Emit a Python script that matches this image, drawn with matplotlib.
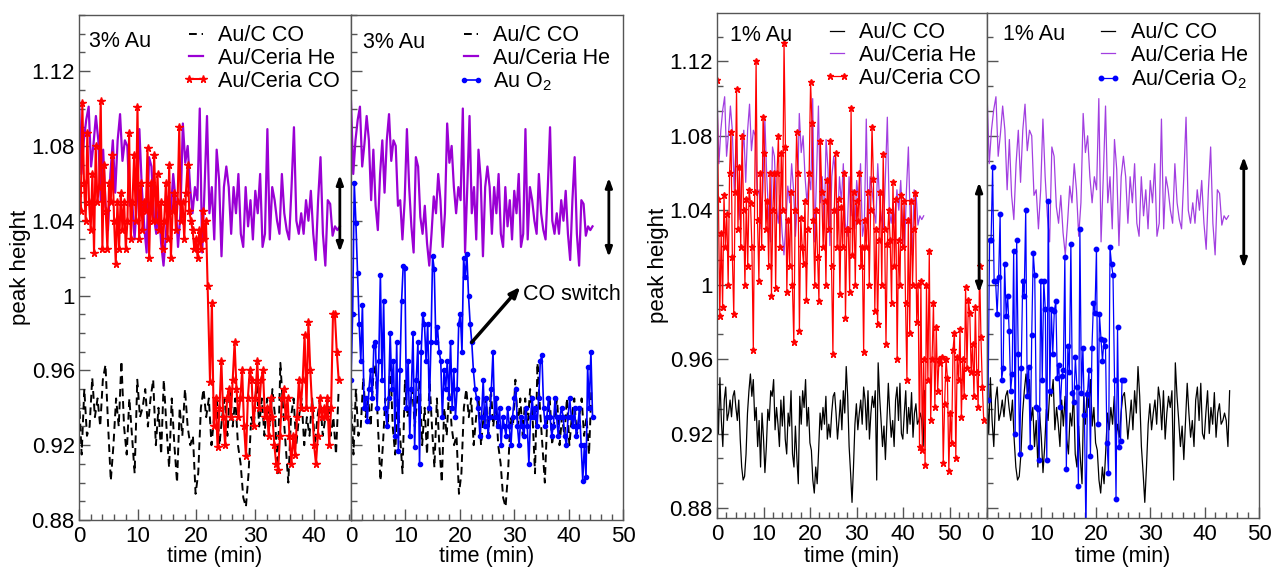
import numpy as np
import matplotlib

matplotlib.use("Agg")
import matplotlib.pyplot as plt
from matplotlib.lines import Line2D
from matplotlib.ticker import AutoMinorLocator, FuncFormatter, MultipleLocator

plt.rcParams["font.family"] = ["Liberation Sans", "DejaVu Sans"]
plt.rcParams["mathtext.default"] = "regular"

# --- data (peak height vs. time in minutes) ---------------------------------
# Au/Ceria under He, shared reference trace (0 .. 44.4 min)
HE_END = 44.4
HE = [1.104, 1.065, 1.083, 1.094, 1.101, 1.069, 1.081, 1.096, 1.083, 1.051,
      1.078, 1.048, 1.035, 1.065, 1.083, 1.055, 1.083, 1.097, 1.072, 1.083,
      1.080, 1.048, 1.051, 1.030, 1.051, 1.089, 1.058, 1.037, 1.023, 1.074,
      1.069, 1.042, 1.033, 1.048, 1.028, 1.016, 1.033, 1.053, 1.044, 1.065,
      1.051, 1.026, 1.044, 1.092, 1.071, 1.080, 1.058, 1.044, 1.058, 1.051,
      1.100, 1.023, 1.058, 1.096, 1.044, 1.058, 1.030, 1.078, 1.062, 1.021,
      1.058, 1.069, 1.058, 1.033, 1.058, 1.044, 1.065, 1.033, 1.026, 1.058,
      1.037, 1.051, 1.030, 1.056, 1.044, 1.065, 1.026, 1.033, 1.089, 1.030,
      1.058, 1.051, 1.040, 1.033, 1.065, 1.044, 1.035, 1.030, 1.058, 1.090,
      1.040, 1.033, 1.044, 1.033, 1.051, 1.040, 1.056, 1.033, 1.019, 1.051,
      1.074, 1.033, 1.016, 1.051, 1.049, 1.032, 1.037, 1.035, 1.037]

# 3% Au: Au/C under CO (0 .. 44.2 min)
C3_END = 44.2
C3 = [0.945, 0.915, 0.950, 0.925, 0.930, 0.956, 0.935, 0.945, 0.930, 0.955,
      0.963, 0.930, 0.901, 0.920, 0.945, 0.930, 0.965, 0.930, 0.915, 0.945,
      0.925, 0.905, 0.955, 0.935, 0.940, 0.950, 0.930, 0.945, 0.955, 0.920,
      0.940, 0.915, 0.955, 0.930, 0.908, 0.945, 0.920, 0.900, 0.940, 0.925,
      0.950, 0.930, 0.920, 0.925, 0.894, 0.905, 0.940, 0.950, 0.935, 0.945,
      0.920, 0.935, 0.945, 0.920, 0.935, 0.945, 0.925, 0.950, 0.930, 0.945,
      0.920, 0.910, 0.892, 0.887, 0.905, 0.935, 0.930, 0.955, 0.930, 0.945,
      0.925, 0.945, 0.930, 0.950, 0.935, 0.905, 0.964, 0.940, 0.920, 0.900,
      0.935, 0.945, 0.920, 0.935, 0.945, 0.920, 0.935, 0.925, 0.945, 0.920,
      0.935, 0.945, 0.925, 0.935, 0.945, 0.925, 0.935, 0.915, 0.950]

# 3% Au: Au/Ceria under CO, before (0 .. 21.9) and after (22.3 .. 44.2) the drop
CE3_A_SPAN = (0.0, 21.9)
CE3_A = [1.055, 1.045, 1.103, 1.060, 1.040, 1.087, 1.050, 1.035, 1.065, 1.023,
         1.080, 1.050, 1.058, 1.104, 1.025, 1.070, 1.045, 1.025, 1.060, 1.050,
         1.075, 1.040, 1.017, 1.050, 1.025, 1.055, 1.035, 1.050, 1.025, 1.040,
         1.087, 1.030, 1.050, 1.075, 1.040, 1.101, 1.030, 1.060, 1.035, 1.050,
         1.045, 1.079, 1.020, 1.060, 1.040, 1.075, 1.040, 1.065, 1.035, 1.050,
         1.025, 1.040, 1.060, 1.030, 1.070, 1.020, 1.045, 1.055, 1.035, 1.050,
         1.090, 1.040, 1.050, 1.030, 1.055, 1.070, 1.045, 1.040, 1.035, 1.025,
         1.030, 1.020, 1.035, 1.025, 1.045, 1.030, 1.040, 1.005]
CE3_B_SPAN = (22.3, 44.2)
CE3_B = [0.954, 0.996, 0.930, 0.945, 0.919, 0.940, 0.965, 0.935, 0.920, 0.945,
         0.950, 0.935, 0.955, 0.975, 0.950, 0.935, 0.945, 0.960, 0.930, 0.914,
         0.945, 0.960, 0.955, 0.930, 0.945, 0.965, 0.940, 0.955, 0.960, 0.935,
         0.940, 0.925, 0.945, 0.935, 0.920, 0.910, 0.907, 0.925, 0.945, 0.950,
         0.935, 0.945, 0.925, 0.910, 0.925, 0.915, 0.935, 0.955, 0.940, 0.955,
         0.979, 0.940, 0.986, 0.960, 0.940, 0.920, 0.910, 0.925, 0.945, 0.935,
         0.940, 0.935, 0.945, 0.920, 0.940, 0.990, 0.990, 0.970, 0.955]

# 3% Au: Au under O2 (0 .. 44.4 min)
O3_END = 44.4
O3 = [0.955, 0.990, 1.060, 1.039, 1.012, 0.985, 0.965, 0.995, 0.940, 0.945,
      0.933, 0.950, 0.960, 0.945, 0.973, 0.975, 0.940, 0.965, 1.011, 0.955,
      0.997, 0.940, 0.930, 0.945, 0.980, 0.950, 0.965, 0.925, 0.975, 0.917,
      0.960, 0.997, 1.016, 1.015, 0.940, 0.965, 0.925, 0.950, 0.980, 0.919,
      0.955, 0.975, 0.910, 0.970, 0.990, 0.985, 0.965, 0.985, 0.940, 0.975,
      1.021, 1.014, 0.975, 0.983, 0.970, 0.965, 0.935, 0.960, 0.950, 0.965,
      0.945, 0.975, 0.940, 0.960, 0.935, 0.950, 0.985, 0.990, 0.970, 1.020,
      1.010, 1.022, 1.000, 0.985, 0.975, 0.960,
      0.950, 0.945, 0.940, 0.925, 0.935, 0.955, 0.930, 0.945, 0.925, 0.935,
      0.950, 0.970, 0.935, 0.945, 0.930, 0.940, 0.920, 0.935, 0.930, 0.925,
      0.940, 0.930, 0.920, 0.935, 0.945, 0.950, 0.930, 0.920, 0.935, 0.930,
      0.925, 0.940, 0.930, 0.910, 0.935, 0.945, 0.935, 0.940, 0.930, 0.945,
      0.965, 0.968, 0.940, 0.930, 0.935, 0.945, 0.935, 0.925, 0.930, 0.945,
      0.935, 0.925, 0.935, 0.940, 0.935, 0.925, 0.920, 0.935, 0.945, 0.935,
      0.930, 0.940, 0.925, 0.930, 0.940, 0.920, 0.901, 0.920, 0.903, 0.962,
      0.940, 0.970, 0.935]

# 1% Au: Au/C under CO (0 .. 44.6 min)
C1_END = 44.6
C1 = [0.943, 0.920, 0.950, 0.927, 0.913, 0.938, 0.945, 0.927, 0.931, 0.938,
      0.929, 0.940, 0.943, 0.934, 0.927, 0.938, 0.917, 0.902, 0.895, 0.897,
      0.909, 0.931, 0.943, 0.952, 0.940, 0.949, 0.927, 0.934, 0.913, 0.927,
      0.902, 0.931, 0.918, 0.899, 0.913, 0.933, 0.927, 0.943, 0.940, 0.949,
      0.922, 0.934, 0.925, 0.913, 0.938, 0.924, 0.940, 0.917, 0.909, 0.931,
      0.924, 0.943, 0.909, 0.902, 0.924, 0.907, 0.893, 0.940, 0.925, 0.943,
      0.934, 0.949, 0.924, 0.934, 0.915, 0.911, 0.895, 0.888, 0.902, 0.893,
      0.911, 0.931, 0.922, 0.934, 0.925, 0.940, 0.917, 0.925, 0.918, 0.931,
      0.940, 0.942, 0.931, 0.917, 0.927, 0.938, 0.922, 0.943, 0.931, 0.956,
      0.940, 0.913, 0.899, 0.883, 0.902, 0.925, 0.936, 0.922, 0.931, 0.938,
      0.925, 0.945, 0.938, 0.922, 0.943, 0.917, 0.931, 0.940, 0.934, 0.943,
      0.895, 0.958, 0.940, 0.927, 0.913, 0.924, 0.906, 0.927, 0.947, 0.931,
      0.918, 0.927, 0.913, 0.938, 0.945, 0.927, 0.947, 0.920, 0.917, 0.931,
      0.943, 0.920, 0.934, 0.925, 0.942, 0.918, 0.931, 0.936, 0.925, 0.927,
      0.931, 0.927, 0.913, 0.943]

# 1% Au: Au/Ceria under CO, one reading every 0.3 min
CE1_STEP = 0.3
CE1 = [1.110, 1.046, 0.983, 1.028, 0.988, 1.048, 1.020, 1.038, 1.000, 1.060,
       1.082, 1.015, 0.984, 1.050, 1.105, 1.030, 1.063, 1.020, 1.080, 1.040,
       1.000, 1.046, 1.010, 1.051, 1.044, 1.020, 0.965, 1.050, 1.120, 1.035,
       1.002, 1.060, 1.020, 1.090, 1.071, 1.030, 1.045, 1.010, 1.060, 0.994,
       1.040, 1.060, 0.998, 1.060, 1.080, 1.020, 1.071, 1.040, 1.130, 1.074,
       0.996, 1.035, 1.010, 1.050, 1.000, 0.969, 1.040, 1.082, 1.060, 0.975,
       1.036, 1.020, 1.011, 1.045, 0.992, 1.030, 1.060, 1.109, 1.087, 1.035,
       1.000, 1.040, 1.015, 0.991, 1.077, 1.050, 1.020, 1.045, 1.000, 1.056,
       1.030, 1.077, 1.010, 0.963, 1.040, 1.071, 1.020, 1.046, 0.995, 1.042,
       1.020, 1.060, 0.982, 1.030, 1.030, 0.996, 1.095, 1.016, 1.050, 1.000,
       1.045, 1.034, 1.060, 1.010, 1.020, 0.964, 1.035, 1.020, 1.050, 1.000,
       1.040, 1.085, 1.057, 0.986, 1.030, 0.979, 1.024, 1.050, 1.000, 1.070,
       1.030, 0.968, 1.022, 1.040, 1.024, 0.990, 1.055, 1.010, 1.046, 0.960,
       1.024, 1.000, 1.048, 1.020, 1.045, 0.990, 0.949, 1.035, 0.974, 1.045,
       1.000, 1.030, 1.049, 0.980, 1.000, 0.913, 1.002, 0.911, 0.960, 0.903,
       1.000, 0.949, 1.018, 0.927, 0.960, 0.990, 0.934, 0.977, 0.943, 0.960,
       0.958, 0.961, 0.904, 0.936, 0.960, 0.950, 0.900, 0.931, 0.915, 0.965,
       0.974, 0.907, 0.961, 0.949, 0.976, 0.929, 0.960, 0.940, 0.999, 0.955,
       0.992, 0.985, 0.953, 0.968, 0.940, 0.988, 0.953, 0.934, 1.010, 0.972,
       0.945, 0.927]

# 1% Au: Au/Ceria under O2 (0.2 .. 25.1 min)
O1_SPAN = (0.2, 25.1)
O1 = [0.938, 1.024, 1.024, 1.063, 1.002, 1.002, 0.984, 1.004, 1.038, 0.949,
      0.955, 1.011, 0.983, 0.994, 0.975, 0.943, 0.952, 1.018, 0.920, 1.024,
      0.963, 0.909, 0.955, 1.002, 0.994, 1.040, 0.940, 0.956, 0.913, 0.973,
      1.017, 1.005, 0.934, 0.933, 0.906, 1.002, 0.949, 1.002, 0.987, 0.906,
      1.045, 0.943, 0.987, 0.963, 0.986, 0.991, 0.950, 0.957, 0.934, 0.951,
      0.954, 1.015, 0.901, 0.967, 0.953, 1.022, 0.942, 0.937, 0.961, 0.945,
      0.892, 1.030, 0.942, 0.966, 0.930, 0.868, 0.941, 0.954, 0.908, 0.966,
      0.990, 0.985, 1.019, 0.925, 0.984, 0.971, 0.959, 0.970, 0.967, 0.915,
      0.899, 1.020, 1.011, 1.005, 0.949, 0.885, 0.977, 0.913, 0.916, 0.949,
      0.949]

LABEL_CO = "Au/C CO"
LABEL_HE = "Au/Ceria He"

PURPLE = "#9a00d4"
PURPLE_LIGHT = "#a23fe0"
RED = "#ff0000"
BLUE = "#0000ff"
FRAME = "#555555"


def span(values, start, end):
    return np.linspace(start, end, len(values))


def y_label_fmt(v, _pos):
    return f"{v:.2f}".rstrip("0").rstrip(".")


fig = plt.figure(figsize=(12.72, 5.72), dpi=100)
W, H = 1272, 572


def px_axes(x0, x1, y0, y1):
    return fig.add_axes([x0 / W, 1 - y1 / H, (x1 - x0) / W, (y1 - y0) / H])


def style(ax, xmax, ylim, yminor, first):
    ax.set_xlim(0, xmax)
    ax.set_ylim(*ylim)
    ax.xaxis.set_major_locator(MultipleLocator(10))
    ax.xaxis.set_minor_locator(MultipleLocator(2))
    ax.yaxis.set_major_locator(MultipleLocator(0.04))
    ax.yaxis.set_minor_locator(AutoMinorLocator(yminor))
    ax.yaxis.set_major_formatter(FuncFormatter(y_label_fmt))
    ax.tick_params(which="both", direction="in", top=False, right=False,
                   color=FRAME, labelsize=16, labelcolor="black")
    ax.tick_params(which="major", length=8, width=1)
    ax.tick_params(which="minor", length=4.5, width=1)
    ax.tick_params(axis="x", pad=4)
    ax.tick_params(axis="y", pad=3, labelleft=first)
    for sp in ax.spines.values():
        sp.set_color(FRAME)
        sp.set_linewidth(1.0)
    ax.set_xlabel("time (min)", fontsize=15.5)
    if first:
        ax.set_ylabel("peak height", fontsize=16)


def add_legend(ax, handles, labels, x, y, tag, tx, ty):
    ax.legend(handles, labels, loc="upper left", bbox_to_anchor=(x, y),
              frameon=False, fontsize=15.5, handlelength=1.25, handletextpad=0.4,
              labelspacing=0.08, borderpad=0, borderaxespad=0, numpoints=2)
    ax.text(tx, ty, tag, transform=ax.transAxes, fontsize=15.5, va="center", ha="left")


def double_arrow(ax, x, y0, y1):
    ax.annotate("", xy=(x, y1), xytext=(x, y0),
                arrowprops=dict(arrowstyle="<|-|>,head_length=0.55,head_width=0.2",
                                lw=2.0, color="black", shrinkA=0, shrinkB=0))


t_he = span(HE, 0, HE_END)
t_c3 = span(C3, 0, C3_END)
t_o3 = span(O3, 0, O3_END)
t_c1 = span(C1, 0, C1_END)
t_ce1 = np.arange(len(CE1)) * CE1_STEP
t_o1 = span(O1, *O1_SPAN)
t_ce3 = np.concatenate([span(CE3_A, *CE3_A_SPAN), span(CE3_B, *CE3_B_SPAN)])
ce3 = CE3_A + CE3_B

# ---- 3% Au -----------------------------------------------------------------
ylim3 = (0.88, 1.15)
ax_a = px_axes(79, 351, 15, 520)
ax_b = px_axes(351, 623, 15, 520)

dash3 = dict(color="black", lw=1.4, linestyle=(0, (4.0, 2.5)))
he3 = dict(color=PURPLE, lw=1.6)
for ax in (ax_a, ax_b):
    ax.plot(t_c3, C3, **dash3)
    ax.plot(t_he, HE, **he3)

red3 = dict(color=RED, lw=1.5, marker="*", ms=5.5, mec=RED)
ax_a.plot(t_ce3, ce3, **red3)
blue3 = dict(color=BLUE, lw=1.2, marker="o", ms=3, mec=BLUE)
ax_b.plot(t_o3, O3, **blue3)

style(ax_a, 46.3, ylim3, 4, True)
style(ax_b, 50, ylim3, 4, False)
ax_a.yaxis.set_label_coords(-0.175, 0.5)
for ax in (ax_a, ax_b):
    ax.xaxis.set_label_coords(0.5, -0.052)

add_legend(ax_a, [Line2D([], [], **dash3), Line2D([], [], **he3), Line2D([], [], **red3)],
           [LABEL_CO, LABEL_HE, "Au/Ceria CO"], 0.382, 0.98, "3% Au", 0.037, 0.947)
add_legend(ax_b, [Line2D([], [], **dash3), Line2D([], [], **he3), Line2D([], [], **blue3)],
           [LABEL_CO, LABEL_HE, "Au O$_2$"], 0.393, 0.98, "3% Au", 0.044, 0.945)

double_arrow(ax_a, 44.4, 1.0233, 1.0645)
double_arrow(ax_b, 47.4, 1.0206, 1.063)
ax_b.annotate("", xy=(31.1, 1.0046), xytext=(22.2, 0.975),
              arrowprops=dict(arrowstyle="-|>,head_length=0.6,head_width=0.25",
                              lw=2.5, color="black", shrinkA=0, shrinkB=0))
ax_b.text(31.6, 1.0003, "CO switch", fontsize=15.5, va="center", ha="left")

# ---- 1% Au -----------------------------------------------------------------
ylim1 = (0.8746, 1.146)
ax_c = px_axes(717, 987, 13, 518)
ax_d = px_axes(987, 1259, 13, 518)

line1 = dict(color="black", lw=0.9)
he1 = dict(color=PURPLE_LIGHT, lw=0.9)
for ax in (ax_c, ax_d):
    ax.plot(t_c1, C1, **line1)
    ax.plot(t_he, HE, **he1)

red1 = dict(color=RED, lw=0.9, marker="*", ms=5.0, mec=RED)
ax_c.plot(t_ce1, CE1, **red1)
blue1 = dict(color=BLUE, lw=0.9, marker="o", ms=3.2, mec=BLUE)
ax_d.plot(t_o1, O1, **blue1)

style(ax_c, 58, ylim1, 3, True)
style(ax_d, 50, ylim1, 3, False)
ax_c.yaxis.set_label_coords(-0.176, 0.5)
for ax in (ax_c, ax_d):
    ax.xaxis.set_label_coords(0.5, -0.056)

add_legend(ax_c, [Line2D([], [], **line1), Line2D([], [], **he1), Line2D([], [], **red1)],
           [LABEL_CO, LABEL_HE, "Au/Ceria CO"], 0.393, 0.982, "1% Au", 0.048, 0.956)
add_legend(ax_d, [Line2D([], [], **line1), Line2D([], [], **he1), Line2D([], [], **blue1)],
           [LABEL_CO, LABEL_HE, "Au/Ceria O$_2$"], 0.397, 0.982, "1% Au", 0.059, 0.958)

double_arrow(ax_c, 56.3, 0.9957, 1.055)
double_arrow(ax_d, 47.2, 1.009, 1.0687)

fig.savefig("out.png", dpi=100)
